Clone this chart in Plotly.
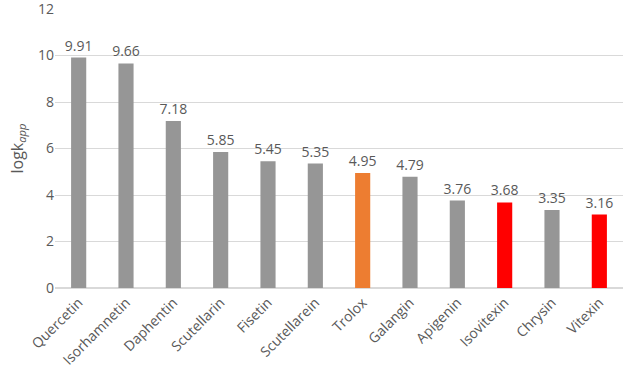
import plotly.graph_objects as go

compounds = ["Quercetin", "Isorhamnetin", "Daphentin", "Scutellarin", "Fisetin",
             "Scutellarein", "Trolox", "Galangin", "Apigenin", "Isovitexin",
             "Chrysin", "Vitexin"]
logk = [9.91, 9.66, 7.18, 5.85, 5.45, 5.35, 4.95, 4.79, 3.76, 3.68, 3.35, 3.16]
bar_colors = ["#969696"] * 6 + ["#ED7D31", "#969696", "#969696", "#FF0000", "#969696", "#FF0000"]
y_ticks = [0, 2, 4, 6, 8, 10, 12]

fig = go.Figure(go.Bar(
    x=compounds, y=logk,
    marker=dict(color=bar_colors, line=dict(width=0)),
    text=[f"{v:.2f}" for v in logk], textposition="outside",
    textfont=dict(color="#595959", size=14, family="Open Sans"),
    constraintext="none",
    cliponaxis=False,
))
fig.update_layout(
    width=625, height=375,
    margin=dict(l=55, r=2, t=9, b=87),
    paper_bgcolor="white", plot_bgcolor="white",
    bargap=0.68, showlegend=False,
    font=dict(family="Open Sans", color="#595959", size=14),
    xaxis=dict(tickangle=-45, showgrid=False, showline=True, linecolor="#D9D9D9",
               ticks="", automargin=False, tickfont=dict(size=14, color="#595959")),
    yaxis=dict(range=[0, 12], tickvals=y_ticks, showgrid=True, gridcolor="#D9D9D9",
               zeroline=True, zerolinecolor="#D9D9D9", ticks="",
               ticklabeloverflow="allow", automargin=False,
               tickfont=dict(size=14, color="#595959"),
               title=dict(text="logk<sub><i>app</i></sub>", font=dict(size=16, color="#595959"), standoff=10)),
)
fig.write_html("out.html")
